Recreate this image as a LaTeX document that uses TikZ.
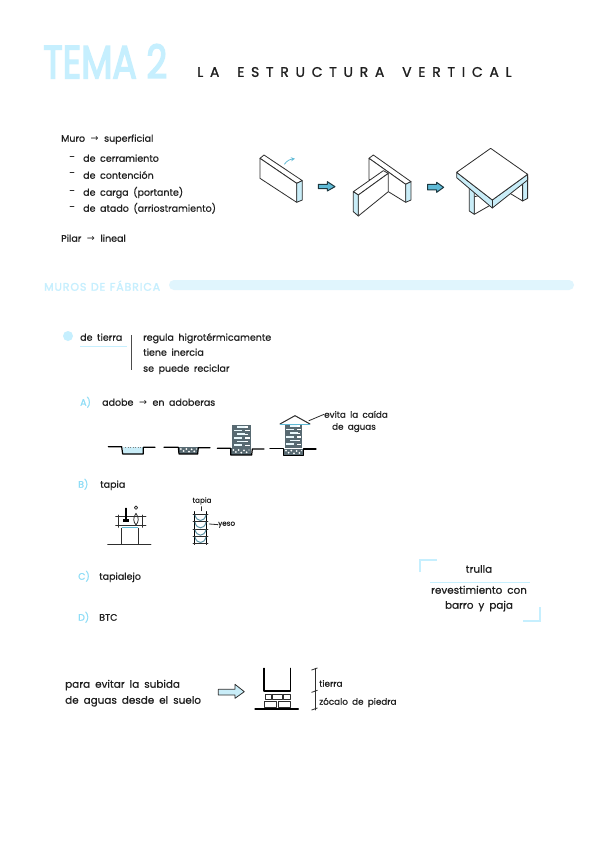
\documentclass[tikz,border=0pt]{standalone}
\usepackage{fontspec}
\usepackage{graphicx}
\setmainfont{Poppins}[FakeBold=0.6,WordSpace=1.8]
\newfontfamily\symf{DejaVu Sans}
\newfontfamily\titlef{Poppins}[FakeBold=3.5]
\newfontfamily\spacedf{Poppins}[LetterSpace=48,FakeBold=1.2,WordSpace=1.7]
\newfontfamily\spacedb{Poppins}[LetterSpace=8,FakeBold=1.5,WordSpace=1.2]
\newcommand{\arr}{\hspace{1pt}{\symf\fontsize{9.5}{9.5}\selectfont →}\hspace{1pt}}
\definecolor{lblue}{HTML}{C6EFFE}
\definecolor{pale}{HTML}{E0F5FD}
\definecolor{mblue}{HTML}{8EDDF7}
\definecolor{face}{HTML}{C9EDF8}
\definecolor{teal1}{HTML}{5FBAD6}
\definecolor{slateb}{HTML}{586A72}
\tikzset{
  txt/.style={anchor=mid west,inner sep=0pt,text=black!88,font=\fontsize{9.5}{9.5}\selectfont},
  tbig/.style={txt,font=\fontsize{10.4}{10.4}\selectfont},
  tsmall/.style={txt,font=\fontsize{7.2}{7.2}\selectfont},
  tmid/.style={txt,font=\fontsize{8.8}{8.8}\selectfont},
  lett/.style={txt,text=mblue,font=\fontsize{9.5}{9.5}\selectfont},
  ink/.style={draw=black!82,line width=0.8pt,line join=round,line cap=round},
  thickink/.style={draw=black,line width=1.2pt,line join=round,line cap=round},
  bface/.style={ink,fill=face},
  wface/.style={ink,fill=white},
  blockar/.style={draw=black!70!teal1,line width=1pt,fill=teal1,line join=round},
  corner/.style={draw=lblue,line width=1.7pt},
}
\newcommand{\gravel}[2]{%
  \fill[slateb] (#1,#2) rectangle ++(58,20);
  \foreach \p/\q/\r in {6/5/3,14/11/3,22/5/3,30/13/3,38/6/3,46/12/3,53/5/2}
    \fill[white] (#1+\p,#2+\q) circle (\r);
}
\newcommand{\bricks}[4]{% x, ytop, w, h
  \fill[slateb] (#1,#2) rectangle ++(#3,#4);
  \pgfmathsetmacro{\nrows}{int(#4/11)}
  \foreach \i in {1,...,\nrows}{
    \pgfmathsetmacro{\yy}{#2+(\i-1)*11+3}
    \pgfmathsetmacro{\ofs}{mod(\i,2)*10}
    \fill[white!60!face] (#1+4+\ofs,\yy) rectangle ++(24,5);
    \fill[white] (#1+#3-17,\yy+1) rectangle ++(14-\ofs/2,4);
  }
}
\begin{document}
\begin{tikzpicture}[x=1pt,y=-1pt]
\useasboundingbox (0,0) rectangle (599,848);
\fill[white] (0,0) rectangle (599,848);

% Header
\node[anchor=north west,inner sep=0pt,text=lblue] (title) at (43,44) {\resizebox{124pt}{34pt}{\titlef TEMA 2}};
\node[txt,anchor=west,font=\spacedf\fontsize{14}{14}\selectfont] (subtitle) at (197,72) {LA ESTRUCTURA VERTICAL};

% List
\node[txt] (muro) at (61,139) {Muro \arr\ superficial};
\foreach \yy in {156,172,190,206} \draw[ink] (70,\yy) -- (74,\yy);
\node[txt] (cerr) at (83,159) {de cerramiento};
\node[txt] (cont) at (83,176) {de contención};
\node[txt] (carg) at (83,193) {de carga (portante)};
\node[txt] (atad) at (83,209) {de atado (arriostramiento)};
\node[txt] (pila) at (61,239) {Pilar \arr\ lineal};

% Isometric walls
\begin{scope}[shift={(250,140)},x=0.3333pt,y=-0.3333pt]
  % wall 1
  \draw[wface] (42,45) -- (157,122) -- (140,130) -- (30,55) -- cycle;
  \draw[wface] (30,55) -- (140,130) -- (140,187) -- (30,115) -- cycle;
  \draw[bface] (140,130) -- (157,122) -- (157,180) -- (140,187) -- cycle;
  \draw[teal1,line width=0.8pt,->,>=stealth] (103,73) .. controls (112,60) and (122,58) .. (135,56);
  % arrow 1
  \draw[blockar] (205,133) -- (232,133) -- (232,125) -- (255,140) -- (232,153) -- (232,146) -- (205,146) -- cycle;
  % wall 2
  \draw[wface] (370,45) -- (483,125) -- (467,133) -- (357,55) -- cycle;
  \draw[wface] (357,55) -- (467,133) -- (467,187) -- (415,155) -- (357,118) -- cycle;
  \draw[bface] (467,133) -- (483,125) -- (483,180) -- (467,187) -- cycle;
  \draw[wface] (310,155) -- (400,92) -- (415,100) -- (325,165) -- cycle;
  \draw[wface] (325,165) -- (415,100) -- (415,155) -- (325,228) -- cycle;
  \draw[bface] (310,155) -- (325,165) -- (325,228) -- (310,215) -- cycle;
  % arrow 2
  \draw[blockar] (533,133) -- (560,133) -- (560,127) -- (581,142) -- (560,157) -- (560,150) -- (533,150) -- cycle;
  % table
  \draw[wface] (673,223) -- (722,195) -- (722,160) -- (673,170) -- cycle;
  \draw[bface] (658,140) -- (673,150) -- (673,223) -- (658,213) -- cycle;
  \draw[wface] (818,183) -- (780,160) -- (780,130) -- (818,135) -- cycle;
  \draw[bface] (818,120) -- (833,110) -- (833,175) -- (818,183) -- cycle;
  \draw[bface] (620,97) -- (727,180) -- (833,103) -- (833,120) -- (727,204) -- (620,113) -- cycle;
  \draw[wface] (722,25) -- (833,103) -- (727,180) -- (620,97) -- cycle;
  \draw[ink] (727,180) -- (727,204);
\end{scope}

% Section band
\node[anchor=mid west,inner sep=0pt,text=lblue,font=\spacedb\fontsize{11}{11}\selectfont] (muros) at (44,288) {MUROS DE FÁBRICA};
\fill[pale,rounded corners=5pt] (169,280) rectangle (574,290);

% de tierra
\fill[lblue] (68,336) circle (5);
\node[txt] (tierra) at (80,338) {de tierra};
\draw[lblue,line width=0.8pt] (80,346) -- (127,346);
\draw[black!70,line width=1pt] (131,335) -- (131,370);
\node[txt] (reg) at (143,338) {regula higrotérmicamente};
\node[txt] (ine) at (143,353) {tiene inercia};
\node[txt] (rec) at (143,369) {se puede reciclar};

% A adobe
\node[lett] (la) at (80,403) {A)};
\node[txt] (adobe) at (102,403) {adobe \arr\ en adoberas};

\begin{scope}[shift={(100,400)},x=0.3333pt,y=-0.3333pt]
  \fill[face] (68,142) rectangle (128,161);
  \draw[thickink] (25,140) -- (65,140) -- (68,162) -- (130,162) -- (130,142) -- (165,142);
  \draw[black!50,dotted,line width=0.5pt] (76,142) -- (122,142);
  \gravel{237}{142}
  \draw[thickink] (192,142) -- (235,142) -- (237,162) -- (293,162) -- (295,143) -- (330,143);
  \gravel{394}{145}
  \bricks{397}{75}{55}{68}
  \draw[thickink] (352,145) -- (392,145) -- (392,165) -- (455,165) -- (457,147) -- (492,147);
  \gravel{552}{147}
  \bricks{555}{72}{52}{73}
  \draw[thickink] (510,145) -- (550,145) -- (550,167) -- (610,167) -- (610,147) -- (648,147);
  \draw[ink,line width=1pt] (540,72) -- (585,47) -- (630,72);
  \draw[teal1,line width=1.4pt] (540,73) -- (630,73);
  \coordinate (roofpt) at (627,62);
\end{scope}
\node[tmid,anchor=mid] (evita) at (356,415) {evita la caída};
\node[tmid,anchor=mid] (aguas) at (354,427) {de aguas};
\draw[ink] (roofpt) -- (evita.west);

% B tapia
\node[lett] (lb) at (78,485) {B)};
\node[txt] (tapia) at (100,485) {tapia};
\begin{scope}[shift={(70,475)},x=0.3333pt,y=-0.3333pt]
  \draw[ink] (113,208) -- (243,208);
  \draw[ink] (153,160) -- (153,208) (205,160) -- (205,208);
  \draw[ink] (137,125) -- (228,125) (137,152) -- (228,152);
  \draw[ink] (145,120) -- (145,157) (218,120) -- (218,157);
  \draw[teal1,line width=1.5pt] (155,157) -- (205,157);
  \draw[thickink] (168,100) -- (168,135);
  \fill[black] (160,132) rectangle (176,140);
  \draw[ink] (198,115) .. controls (188,130) and (190,140) .. (198,150) .. controls (206,140) and (208,130) .. (198,115);
  \draw[ink] (198,98) circle (5);
  % second
  \draw[thickink] (373,110) -- (373,208) (410,110) -- (410,208);
  \foreach \yy in {118,140,162,184,204} \draw[ink] (369,\yy) -- (414,\yy);
  \foreach \yy in {120,142,164,186} \draw[teal1!50!slateb,line width=1pt] (375,\yy) .. controls (380,\yy+22) and (403,\yy+22) .. (408,\yy);
  \coordinate (tapiaT) at (393,95);
  \coordinate (tapiaB) at (393,107);
  \coordinate (yesoA) at (418,147);
\end{scope}
\node[tsmall,anchor=mid] (tapiasm) at (202,500) {tapia};
\draw[ink] (tapiaT) -- (tapiaB);
\node[tsmall] (yeso) at (218,523) {yeso};
\draw[ink] (yesoA) -- (yeso.west);

% C, D
\node[lett] (lc) at (78,577) {C)};
\node[txt] (tapialejo) at (99,577) {tapialejo};
\node[lett] (ld) at (78,618) {D)};
\node[txt] (btc) at (99,618) {BTC};

% trulla box
\draw[corner] (420,572) -- (420,560) -- (437,560);
\draw[corner] (523,621) -- (540,621) -- (540,607);
\draw[lblue,line width=0.6pt] (430,582) -- (530,582);
\node[tbig,anchor=mid] (trulla) at (479,570) {trulla};
\node[tbig,anchor=mid] (rev) at (479,591) {revestimiento con};
\node[tbig,anchor=mid] (barro) at (479,606) {barro y paja};

% Bottom
\node[tbig] (para) at (65,685) {para evitar la subida};
\node[tbig] (desde) at (65,701) {de aguas desde el suelo};
\begin{scope}[shift={(50,655)},x=0.3333pt,y=-0.3333pt]
  \draw[ink,fill=face] (505,103) -- (555,103) -- (555,88) -- (583,110) -- (555,130) -- (555,120) -- (505,120) -- cycle;
  \draw[thickink] (642,40) -- (642,108) -- (722,108) -- (722,40);
  \foreach \a/\b in {645/665,668/697,700/720} \draw[ink] (\a,117) rectangle (\b,132);
  \foreach \a/\b in {642/678,685/722} \draw[ink] (\a,140) rectangle (\b,157);
  \draw[thickink] (615,162) -- (745,162);
  \draw[ink] (795,40) -- (795,165);
  \foreach \yy in {43,110,163} \draw[ink] (785,\yy+2) -- (802,\yy-4);
\end{scope}
\node[tmid] (tierra2) at (319,684) {tierra};
\node[tmid] (zocalo) at (319,702) {zócalo de piedra};
\end{tikzpicture}
\end{document}
